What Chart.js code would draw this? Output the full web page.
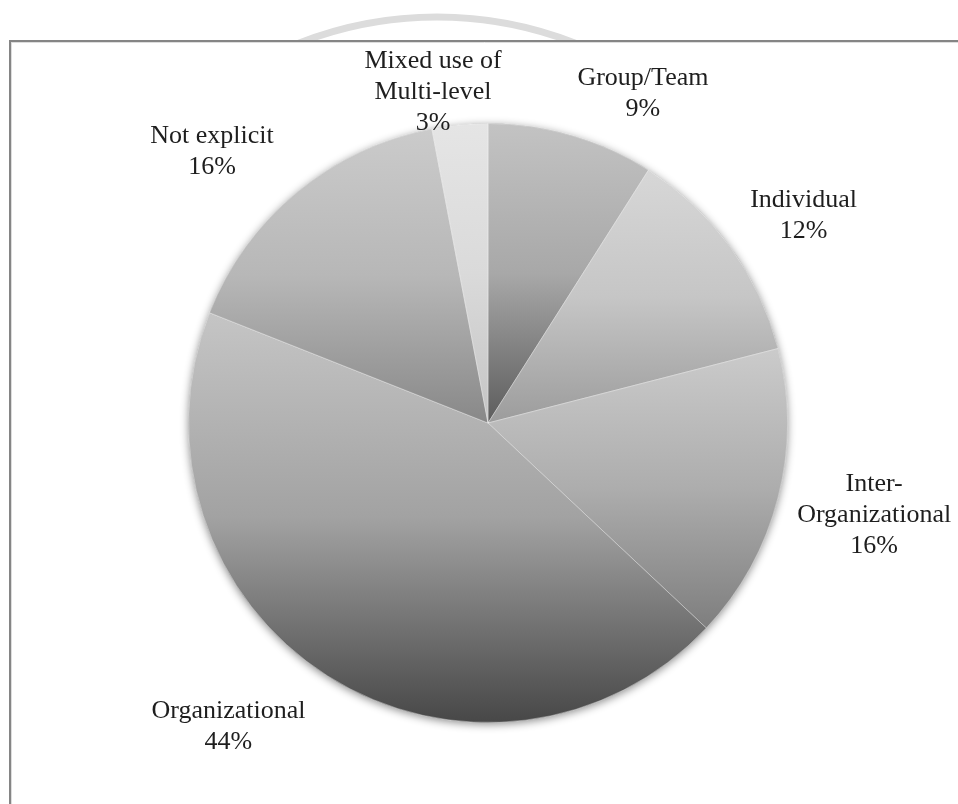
<!DOCTYPE html>
<html>
<head>
<meta charset="utf-8">
<title>Level of analysis</title>
<script src="https://cdn.jsdelivr.net/npm/chart.js@4.4.1/dist/chart.umd.min.js"></script>
<style>
  html, body { margin: 0; padding: 0; background: #fff; }
  canvas { display: block; }
</style>
</head>
<body>
<canvas id="levelChart" width="958" height="804"></canvas>
<script>
'use strict';
// ******* Data *******
let categories = [
  ['Group/Team'],
  ['Individual'],
  ['Inter-', 'Organizational'],
  ['Organizational'],
  ['Not explicit'],
  ['Mixed use of', 'Multi-level']
];
let shares = [9, 12, 16, 44, 16, 3];

// ****** Slice shading (top, middle, bottom of each slice) ******
let shadeTop = ['#c3c3c3', '#d7d7d7', '#cbcbcb', '#c5c5c5', '#cbcbcb', '#e5e5e5'];
let shadeMid = ['#a8a8a8', '#c6c6c6', '#adadad', '#a2a2a2', '#b7b7b7', '#dadada'];
let shadeBottom = ['#5c5c5c', '#9c9c9c', '#7e7e7e', '#474747', '#888888', '#c4c4c4'];

// label block shift from the point just outside each slice
let labelNudge = [[63, -15], [49, -16], [67, 8], [-83, 23], [-66, -20], [-24, -5]];

let LABEL_FONT = '26px "Liberation Serif", "Times New Roman", serif';
let LINE_H = 31;

function sum(arr) {
  return arr.reduce((a, b) => a + b, 0);
}

// vertical gradient spanning the slice's own height
function sliceFill(context) {
  let i = context.dataIndex;
  let chart = context.chart;
  let area = chart.chartArea;
  if (!area || i === undefined) {
    return shadeMid[i] || '#bbb';
  }
  let cx = (area.left + area.right) / 2;
  let cy = (area.top + area.bottom) / 2;
  let r = Math.min(area.width, area.height) / 2;
  let total = sum(shares);
  let before = sum(shares.slice(0, i));
  let a0 = before / total * Math.PI * 2 - Math.PI / 2;
  let a1 = (before + shares[i]) / total * Math.PI * 2 - Math.PI / 2;
  let ys = [cy, cy + r * Math.sin(a0), cy + r * Math.sin(a1)];
  if (a0 <= Math.PI / 2 && a1 >= Math.PI / 2) ys.push(cy + r);
  if (a0 <= -Math.PI / 2 || a1 >= Math.PI * 1.5) ys.push(cy - r);
  let g = chart.ctx.createLinearGradient(0, Math.min(...ys), 0, Math.max(...ys));
  g.addColorStop(0, shadeTop[i]);
  g.addColorStop(0.5, shadeMid[i]);
  g.addColorStop(1, shadeBottom[i]);
  return g;
}

// ****** Plugins ******
let framePlugin = {
  id: 'frame',
  beforeDraw(chart) {
    let ctx = chart.ctx;
    ctx.save();
    // faint ring behind the top edge
    ctx.beginPath();
    ctx.rect(0, 0, chart.width, 40);
    ctx.clip();
    ctx.beginPath();
    ctx.arc(437, 395, 378, 0, Math.PI * 2);
    ctx.lineWidth = 7;
    ctx.strokeStyle = '#dcdcdc';
    ctx.stroke();
    ctx.restore();

    ctx.save();
    ctx.strokeStyle = '#dddddd';
    ctx.lineWidth = 1;
    ctx.beginPath();
    ctx.moveTo(11, 42.5);
    ctx.lineTo(chart.width, 42.5);
    ctx.moveTo(11.5, 42);
    ctx.lineTo(11.5, chart.height);
    ctx.stroke();
    ctx.strokeStyle = '#858585';
    ctx.lineWidth = 2;
    ctx.beginPath();
    ctx.moveTo(9, 41);
    ctx.lineTo(chart.width, 41);
    ctx.moveTo(10, 40);
    ctx.lineTo(10, chart.height);
    ctx.stroke();
    ctx.restore();
  }
};

let shadowPlugin = {
  id: 'pieShadow',
  beforeDatasetsDraw(chart) {
    let arc = chart.getDatasetMeta(0).data[0];
    if (!arc) return;
    let ctx = chart.ctx;
    ctx.save();
    ctx.shadowColor = 'rgba(0, 0, 0, 0.45)';
    ctx.shadowBlur = 9;
    ctx.shadowOffsetY = 2;
    ctx.fillStyle = '#999';
    ctx.beginPath();
    ctx.arc(arc.x, arc.y, arc.outerRadius, 0, Math.PI * 2);
    ctx.fill();
    ctx.restore();
  }
};

let labelPlugin = {
  id: 'sliceLabels',
  afterDatasetsDraw(chart) {
    let ctx = chart.ctx;
    let total = sum(shares);
    let meta = chart.getDatasetMeta(0);
    ctx.save();
    ctx.font = LABEL_FONT;
    ctx.fillStyle = '#1e1e1e';
    ctx.textAlign = 'center';
    ctx.textBaseline = 'alphabetic';
    meta.data.forEach((arc, i) => {
      let mid = (arc.startAngle + arc.endAngle) / 2;
      let dist = arc.outerRadius + 30;
      let x = arc.x + Math.cos(mid) * dist + labelNudge[i][0];
      let y = arc.y + Math.sin(mid) * dist + labelNudge[i][1];
      let lines = categories[i].concat([Math.round(shares[i] / total * 100) + '%']);
      lines.forEach((line, j) => {
        let ly = y + (j - (lines.length - 1) / 2) * LINE_H + 9;
        ctx.fillText(line, x, ly);
      });
    });
    ctx.restore();
  }
};

// ****** Chart ******
let canvas = document.getElementById('levelChart');

new Chart(canvas, {
  type: 'pie',
  data: {
    labels: categories,
    datasets: [{
      data: shares,
      backgroundColor: sliceFill,
      borderColor: 'rgba(255, 255, 255, 0.35)',
      borderWidth: 1
    }]
  },
  options: {
    responsive: false,
    animation: false,
    layout: {
      padding: { left: 188, right: 170, top: 123, bottom: 81 }
    },
    plugins: {
      legend: { display: false },
      tooltip: { enabled: false }
    }
  },
  plugins: [framePlugin, shadowPlugin, labelPlugin]
});
</script>
</body>
</html>
